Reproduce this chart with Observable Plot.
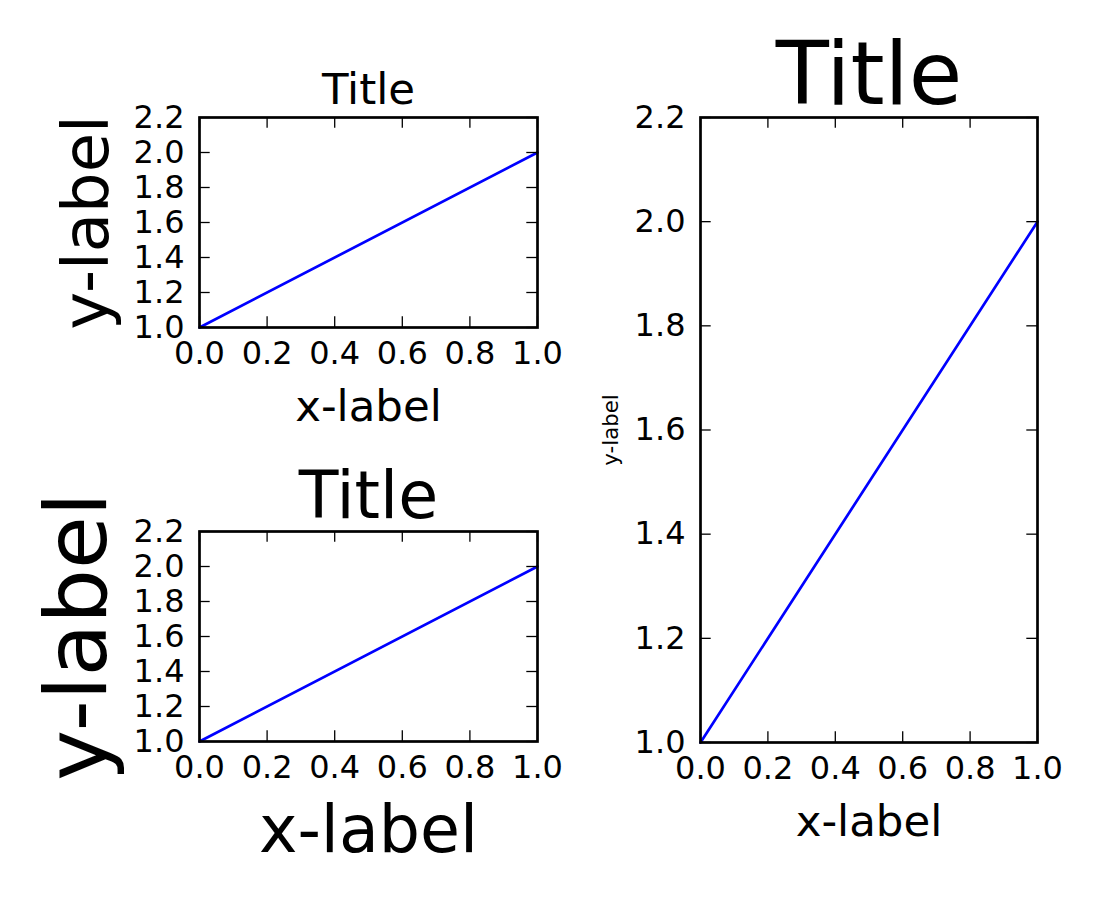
<!DOCTYPE html>
<html><head><meta charset="utf-8">
<script src="https://cdn.jsdelivr.net/npm/d3@7"></script>
<script src="https://cdn.jsdelivr.net/npm/@observablehq/plot@0.6"></script>
<style>
html,body{margin:0;padding:0;background:#fff;overflow:hidden;}
#fig{position:relative;width:1100px;height:900px;}
#fig svg{position:absolute;left:0;top:0;max-width:none;}
</style></head><body><div id="fig"></div>
<script>
// ---- data ----
const xValues = [0, 1];
const yValues = [1, 2];
const xTicks = [0.0, 0.2, 0.4, 0.6, 0.8, 1.0];
const yTicks = [1.0, 1.2, 1.4, 1.6, 1.8, 2.0, 2.2];
const xDomain = [0, 1];
const yDomain = [1, 2.2];
const titleText = "Title";
const xLabelText = "x-label";
const yLabelText = "y-label";

// ---- layout (pixels) ----
const W = 1100, H = 900;
const tickLen = 10.7;
const panels = [
  {left: 199, right: 537, top: 117, bottom: 327, titleSize: 43.5, titleDy: -13.7, xLabelSize: 43.5, xLabelDy: 93, yLabelSize: 64, yLabelDx: -92},
  {left: 199, right: 537, top: 531, bottom: 741, titleSize: 65, titleDy: -14, xLabelSize: 65, xLabelDy: 110, yLabelSize: 86, yLabelDx: -94},
  {left: 700, right: 1037, top: 117, bottom: 742, titleSize: 87, titleDy: -13.7, xLabelSize: 43.5, xLabelDy: 93, yLabelSize: 21.3, yLabelDx: -83}
];

const lineData = xValues.map((x, i) => ({x, y: yValues[i]}));
const fmt = d3.format(".1f");

function panel(p) {
  const fw = p.right - p.left, fh = p.bottom - p.top;
  return Plot.plot({
    width: W, height: H,
    marginLeft: p.left, marginRight: W - p.right, marginTop: p.top, marginBottom: H - p.bottom,
    style: {fontFamily: "DejaVu Sans", background: "transparent", color: "black", overflow: "visible"},
    x: {domain: xDomain},
    y: {domain: yDomain},
    marks: [
      Plot.line(lineData, {x: "x", y: "y", stroke: "#0000ff", strokeWidth: 2.7}),
      Plot.tickY(yTicks, {y: d => d, insetRight: fw - tickLen, stroke: "black", strokeWidth: 1.3}),
      Plot.tickY(yTicks, {y: d => d, insetLeft: fw - tickLen, stroke: "black", strokeWidth: 1.3}),
      Plot.tickX(xTicks, {x: d => d, insetTop: fh - tickLen, stroke: "black", strokeWidth: 1.3}),
      Plot.tickX(xTicks, {x: d => d, insetBottom: fh - tickLen, stroke: "black", strokeWidth: 1.3}),
      Plot.frame({stroke: "black", strokeWidth: 2.7}),
      Plot.axisX(xTicks, {anchor: "bottom", tickSize: 0, tickPadding: 14, tickFormat: fmt, fontSize: 32, label: null, fill: "black"}),
      Plot.axisY(yTicks, {anchor: "left", tickSize: 0, tickPadding: 15, tickFormat: fmt, fontSize: 32, label: null, fill: "black"}),
      Plot.text([titleText], {text: d => d, frameAnchor: "top", textAnchor: "middle", lineAnchor: "bottom", dy: p.titleDy, fontSize: p.titleSize, fill: "black"}),
      Plot.text([xLabelText], {text: d => d, frameAnchor: "bottom", textAnchor: "middle", lineAnchor: "bottom", dy: p.xLabelDy, fontSize: p.xLabelSize, fill: "black"}),
      Plot.text([yLabelText], {text: d => d, frameAnchor: "left", textAnchor: "middle", lineAnchor: "bottom", rotate: -90, dx: p.yLabelDx, fontSize: p.yLabelSize, fill: "black"})
    ]
  });
}

const fig = document.getElementById("fig");
for (const p of panels) fig.appendChild(panel(p));
</script>
</body></html>
